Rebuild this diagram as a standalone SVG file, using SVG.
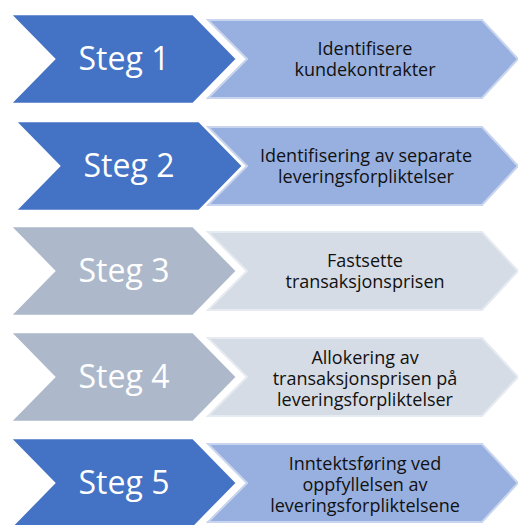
<svg xmlns="http://www.w3.org/2000/svg" width="518" height="525" viewBox="0 0 518 525">
<style>
.bg{fill:#ffffff}
.lb{fill:#4472C4;stroke:#ffffff;stroke-width:2.5;stroke-linejoin:miter}
.lg{fill:#ADB9CA;stroke:#ffffff;stroke-width:2.5;stroke-linejoin:miter}
.rb{fill:#98B0DF;stroke:#C9D5EE;stroke-width:2;stroke-linejoin:miter}
.rg{fill:#D6DCE5;stroke:#E6EAF1;stroke-width:2;stroke-linejoin:miter}
.st{font-family:"Open Sans","Liberation Sans",sans-serif;font-size:32px;fill:#ffffff;text-anchor:middle}
.dt{font-family:"Open Sans","Liberation Sans",sans-serif;font-size:18px;fill:#111111;text-anchor:middle}
</style>
<defs>
<path id="rchev" d="M208,-39 H482 L518,0 L482,39 H208 L247,0 Z"/>
</defs>
<rect class="bg" x="0" y="0" width="518" height="525"/>
<g id="connectors"></g>

<g id="step1" transform="translate(0,59)">
<use href="#rchev" class="rb"/>
<path class="lb" d="M10,-45 H193 L237,0 L193,45 H10 L54,0 Z"/>
<text class="st" x="124" y="11">Steg 1</text>
<text class="dt" x="365" y="-4">Identifisere</text>
<text class="dt" x="365" y="17">kundekontrakter</text>
</g>

<g id="step2" transform="translate(0,166)">
<use href="#rchev" class="rb"/>
<path class="lb" d="M15,-45 H199 L243,0 L199,45 H15 L59,0 Z"/>
<text class="st" x="129" y="11">Steg 2</text>
<text class="dt" x="366" y="-4">Identifisering av separate</text>
<text class="dt" x="366" y="17">leveringsforpliktelser</text>
</g>

<g id="step3" transform="translate(0,271)">
<use href="#rchev" class="rg"/>
<path class="lg" d="M10,-45 H193 L237,0 L193,45 H10 L54,0 Z"/>
<text class="st" x="124" y="11">Steg 3</text>
<text class="dt" x="365" y="-4">Fastsette</text>
<text class="dt" x="365" y="17">transaksjonsprisen</text>
</g>

<g id="step4" transform="translate(0,377)">
<use href="#rchev" class="rg"/>
<path class="lg" d="M10,-45 H193 L237,0 L193,45 H10 L54,0 Z"/>
<text class="st" x="124" y="11">Steg 4</text>
<text class="dt" x="365" y="-13">Allokering av</text>
<text class="dt" x="365" y="8">transaksjonsprisen på</text>
<text class="dt" x="365" y="29">leveringsforpliktelser</text>
</g>

<g id="step5" transform="translate(0,483)">
<use href="#rchev" class="rb"/>
<path class="lb" d="M10,-45 H193 L237,0 L193,45 H10 L54,0 Z"/>
<text class="st" x="124" y="11">Steg 5</text>
<text class="dt" x="365" y="-13">Inntektsføring ved</text>
<text class="dt" x="365" y="8">oppfyllelsen av</text>
<text class="dt" x="365" y="29">leveringsforpliktelsene</text>
</g>
</svg>
